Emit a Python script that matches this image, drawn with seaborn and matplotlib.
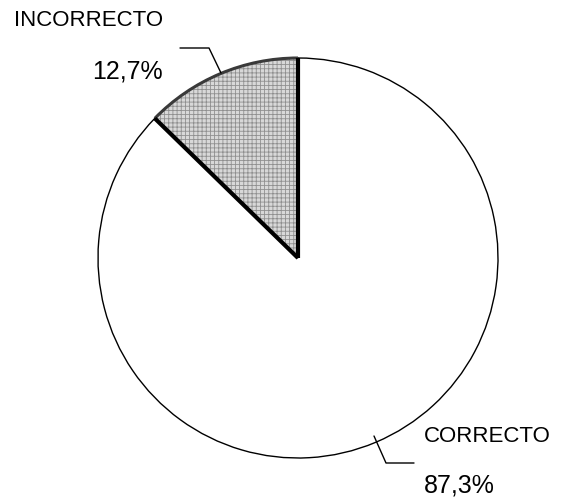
import matplotlib
matplotlib.use("Agg")
import matplotlib.pyplot as plt
import seaborn as sns
import numpy as np
from matplotlib.patches import Wedge, Arc

categories = ["INCORRECTO", "CORRECTO"]
values = [12.7, 87.3]
pct_labels = ["12,7%", "87,3%"]

sns.set_theme(style="white")
plt.rcParams['font.family'] = ['Liberation Sans', 'DejaVu Sans']
plt.rcParams['hatch.linewidth'] = 0.6

W, H = 570, 504
fig = plt.figure(figsize=(W / 100, H / 100), dpi=100)
ax = fig.add_axes([0, 0, 1, 1])

cx, cy, r = 298, 504 - 258, 200
wedges, _ = ax.pie(values, startangle=90, counterclock=True, center=(cx, cy),
                   radius=r, colors=["#d8d8d8", "white"], frame=True,
                   wedgeprops=dict(edgecolor="black", linewidth=1.0))
ax.set_xlim(0, W)
ax.set_ylim(0, H)
ax.set_aspect('equal')
ax.axis('off')

# hatch overlay for INCORRECTO
w0 = wedges[0]
z = w0.get_zorder()
ax.add_patch(Wedge((cx, cy), r, w0.theta1, w0.theta2, facecolor="none",
                   edgecolor="#8f8f8f", hatch="++++", linewidth=0, zorder=z + 0.1))
ax.add_patch(Arc((cx, cy), 2 * r, 2 * r, theta1=w0.theta1, theta2=w0.theta2,
                 edgecolor="#3a3a3a", linewidth=2.2, zorder=z + 0.2))
for th in (w0.theta1, w0.theta2):
    t = np.deg2rad(th)
    ax.plot([cx, cx + r * np.cos(t)], [cy, cy + r * np.sin(t)], color="black",
            lw=3.0, solid_capstyle="butt", zorder=z + 0.3)

fs_cat, fs_pct = 16, 18
ax.text(14, H - 21, categories[0], fontsize=fs_cat, ha="left", va="center", color="black")
ax.text(92, H - 72, pct_labels[0], fontsize=fs_pct, ha="left", va="center", color="black")
ax.plot([180, 209, 221], [H - 48, H - 48, H - 73], color="black", lw=1.0)

ax.text(424, H - 437, categories[1], fontsize=fs_cat, ha="left", va="center", color="black")
ax.text(424, H - 486, pct_labels[1], fontsize=fs_pct, ha="left", va="center", color="black")
ax.plot([374, 386, 414], [H - 436, H - 463, H - 463], color="black", lw=1.0)

fig.savefig("out.png", dpi=100)
